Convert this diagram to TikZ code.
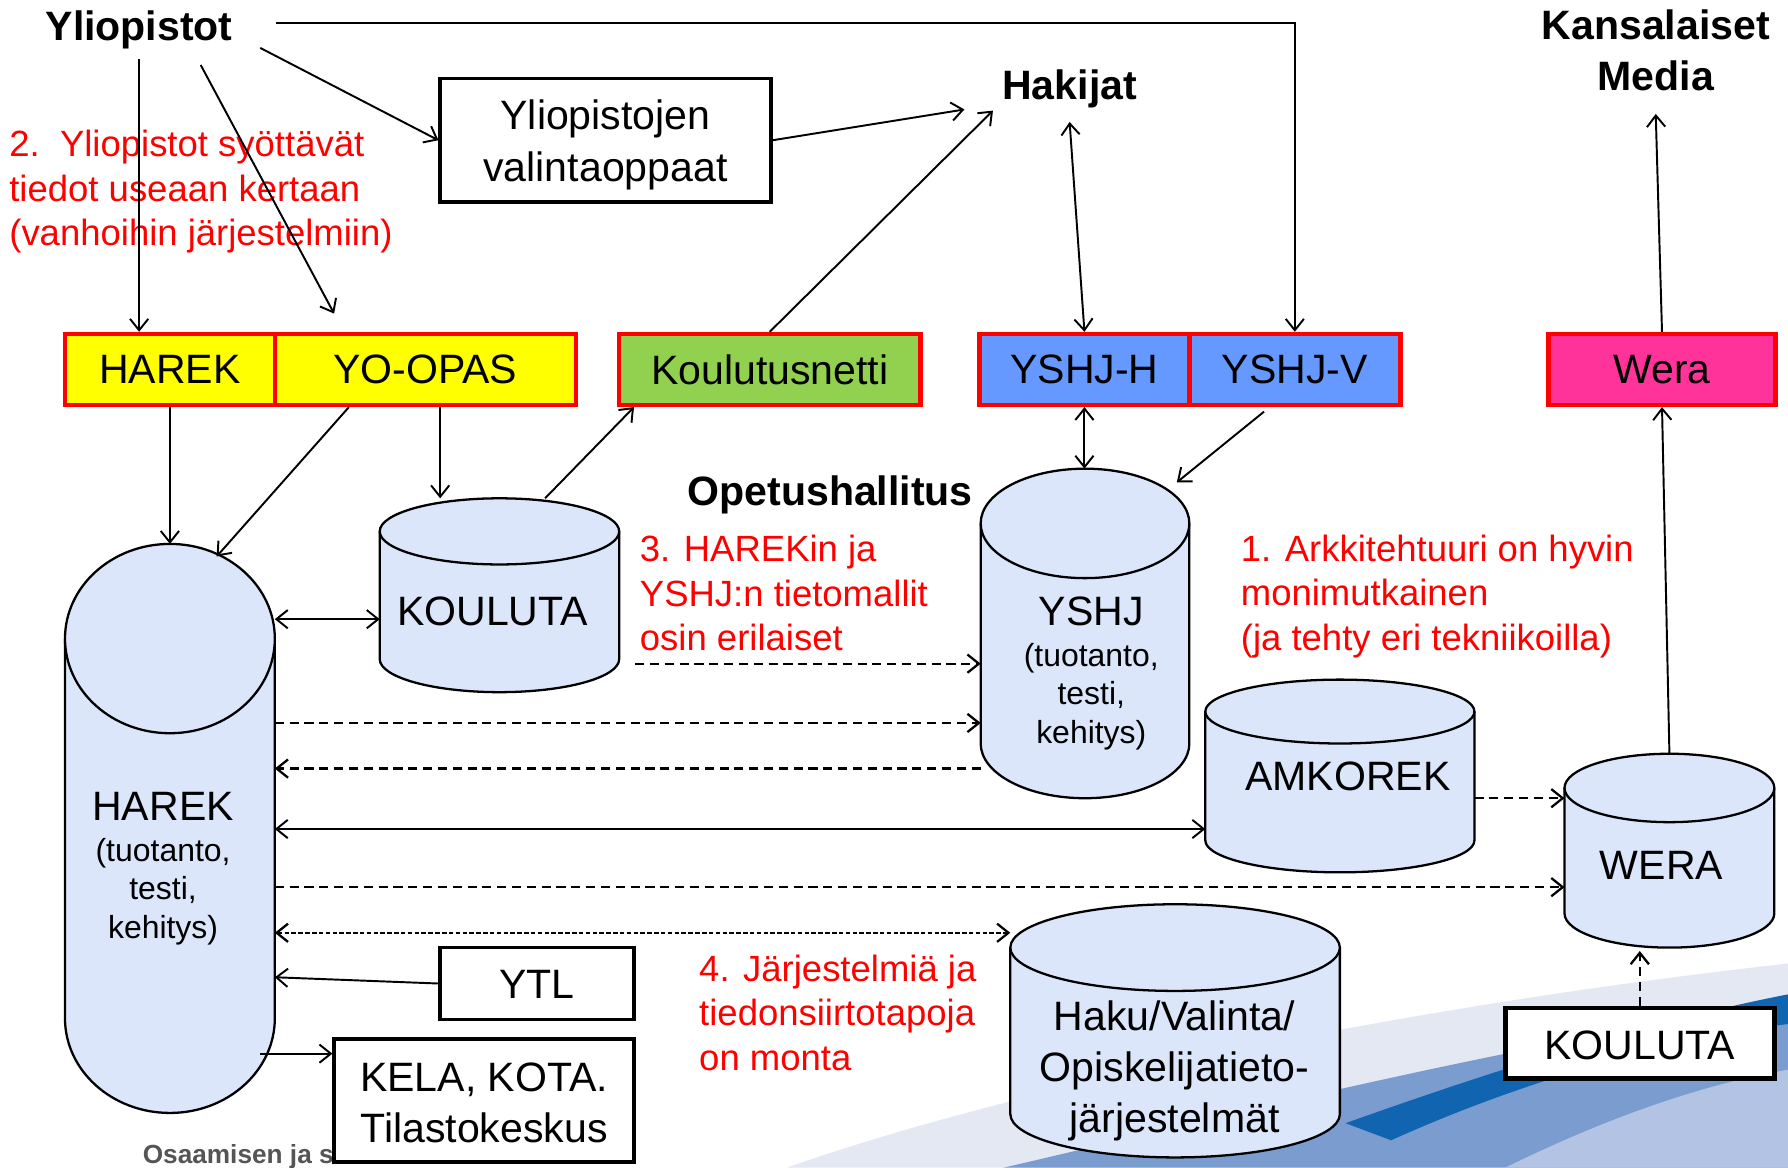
\documentclass[tikz,border=0pt]{standalone}
\usepackage{fontspec}
\setmainfont{Liberation Sans}
\usetikzlibrary{arrows.meta,calc}
\definecolor{cylfill}{RGB}{220,230,250}
\definecolor{hred}{RGB}{255,0,0}
\definecolor{hyellow}{RGB}{255,255,0}
\definecolor{hgreen}{RGB}{146,208,80}
\definecolor{hblue}{RGB}{102,153,255}
\definecolor{hpink}{RGB}{255,51,153}
\definecolor{swlight}{RGB}{228,232,242}
\definecolor{swmid}{RGB}{122,156,206}
\definecolor{swdark}{RGB}{16,100,176}
\definecolor{swpale}{RGB}{178,195,228}
\definecolor{footgray}{RGB}{85,85,85}
\tikzset{
 ghost/.style={inner sep=0pt, outer sep=0pt, draw=none},
 cylline/.style={draw=black, line width=2pt},
 colbox/.style={draw=hred, line width=4pt, minimum height=62pt, inner sep=0pt, font=\fontsize{36}{43}\selectfont},
 blkbox/.style={draw=black, fill=white, line width=3pt, inner sep=0pt},
 lbl/.style={inner sep=0pt, font=\fontsize{36}{45}\selectfont, align=center},
 sublbl/.style={inner sep=0pt, font=\fontsize{28}{34}\selectfont, align=center},
 ttl/.style={inner sep=0pt, font=\fontsize{36}{45}\selectfont\bfseries, align=center},
 note/.style={inner sep=0pt, text=hred, font=\fontsize{32}{39}\selectfont, align=left, anchor=west},
 conn/.style={draw=black, line width=1.7pt, ->},
 both/.style={draw=black, line width=1.7pt, <->},
 dsh/.style={line width=2pt, dash pattern=on 8pt off 5pt},
 dotl/.style={line width=2pt, dash pattern=on 4pt off 2pt},
}
\newcommand\dbcyl[6]{%
 \fill[cylfill] ({#2-#5},#3) -- ({#2-#5},#4) arc[start angle=180,end angle=360,x radius=#5pt,y radius=#6pt] -- ({#2+#5},#3) -- cycle;
 \draw[cylline] ({#2-#5},#3) -- ({#2-#5},#4) arc[start angle=180,end angle=360,x radius=#5pt,y radius=#6pt] -- ({#2+#5},#3);
 \filldraw[cylline,fill=cylfill] (#2,#3) ellipse[x radius=#5pt,y radius=#6pt];
 \node[ghost,minimum width={2*#5pt},minimum height={(#4-#3+2*#6)*1pt}] (#1) at (#2,{(#3+#4)/2}) {};
}
\begin{document}
\begin{tikzpicture}[x=1pt,y=-1pt,>={Straight Barb[length=10pt,width=16pt]}]
\fill[white] (0,0) rectangle (1568,1024);
\useasboundingbox (0,0) rectangle (1568,1024);
% background swoosh
\fill[swlight] (690,1024) .. controls (900,950) and (1250,880) .. (1568,845) -- (1568,1024) -- cycle;
\fill[swmid] (880,1024) .. controls (1050,985) and (1300,920) .. (1568,880) -- (1568,1024) -- cycle;
\fill[swdark] (1180,985) .. controls (1320,935) and (1450,895) .. (1568,872) -- (1568,898) .. controls (1460,912) and (1330,950) .. (1220,1000) -- cycle;
\fill[swpale] (1320,1024) .. controls (1420,975) and (1500,950) .. (1568,938) -- (1568,1024) -- cycle;
\node[anchor=base west, inner sep=0pt, font=\fontsize{23}{26}\selectfont\bfseries, text=footgray] (foot) at (125,1020) {Osaamisen ja s};

% titles
\node[ttl] (yl) at (122,26) {Yliopistot};
\node[ttl] (hak) at (938,78) {Hakijat};
\node[ttl] (kans) at (1452,44) {Kansalaiset\\Media};
\node[ttl] (opet) at (728,434) {Opetushallitus};
\node[blkbox, minimum width=290pt, minimum height=108pt] (val) at (531,123) {};
\node[lbl] (valt) at (531,127) {Yliopistojen\\valintaoppaat};

% coloured boxes
\node[colbox, fill=hyellow, minimum width=184pt] (harekb) at (149,324) {HAREK};
\node[colbox, fill=hyellow, minimum width=264pt] (yoopas) at (373,324) {YO-OPAS};
\node[colbox, fill=hgreen, minimum width=264pt] (kn) at (675,324) {Koulutusnetti};
\node[colbox, fill=hblue, minimum width=184pt] (yshjh) at (951,324) {YSHJ-H};
\node[colbox, fill=hblue, minimum width=185pt] (yshjv) at (1135.5,324) {YSHJ-V};
\node[colbox, fill=hpink, minimum width=199pt] (wera) at (1457.5,324) {Wera};

% cylinders
\dbcyl{harekc}{149}{560}{893}{92}{83}
\dbcyl{kouc}{438}{466}{578}{105}{29}
\dbcyl{yshj}{951.5}{459}{652}{91.5}{48}
\dbcyl{amk}{1175}{624}{737}{118}{28}
\dbcyl{werac}{1464}{691}{801}{92}{30}
\dbcyl{haku}{1030.5}{831}{977}{144.5}{38}

\node[lbl] (harekt) at (143,707) {HAREK};
\node[sublbl] (hareks) at (143,782) {(tuotanto,\\testi,\\kehitys)};
\node[lbl] (kout) at (432,536) {KOULUTA};
\node[lbl] (yshjt) at (957,536) {YSHJ};
\node[sublbl] (yshjs) at (957,611) {(tuotanto,\\testi,\\kehitys)};
\node[lbl] (amkt) at (1182,681) {AMKOREK};
\node[lbl] (werat) at (1457,759) {WERA};
\node[lbl] (hakut) at (1030,939) {Haku/Valinta/\\Opiskelijatieto-\\järjestelmät};

% black boxes
\node[blkbox, minimum width=170pt, minimum height=63pt] (ytl) at (471,862.5) {};
\node[lbl] (ytlt) at (471,863) {YTL};
\node[blkbox, minimum width=263pt, minimum height=108pt] (kela) at (424.5,965) {};
\node[lbl] (kelat) at (424.5,967) {KELA, KOTA.\\Tilastokeskus};
\node[blkbox, line width=4pt, minimum width=236pt, minimum height=62pt] (koub) at (1438,915) {};
\node[lbl] (koubt) at (1438,917) {KOULUTA};

% notes
\node[note] (n2) at (8,168) {2.\ \ Yliopistot syöttävät\\tiedot useaan kertaan\\(vanhoihin järjestelmiin)};
\node[note] (n3) at (561,520) {3. HAREKin ja\\YSHJ:n tietomallit\\osin erilaiset};
\node[note] (n1) at (1088,523) {1. Arkkitehtuuri on hyvin\\monimutkainen\\(ja tehty eri tekniikoilla)};
\node[note] (n4) at (613,888) {4. Järjestelmiä ja\\tiedonsiirtotapoja\\on monta};

% connectors
\draw[conn] ([xshift=38pt,yshift=6pt]yl.east) -| (yshjv.north);
\draw[conn] ([yshift=-9pt]yl.south) -- (yl.south |- harekb.north);
\draw[conn] ([xshift=54pt,yshift=-14pt]yl.south) -- ([xshift=-80pt,yshift=16pt]yoopas.north);
\draw[conn] ([xshift=24pt,yshift=-16pt]yl.east) -- (val.west);
\draw[conn] (val.east) -- ([xshift=-33pt,yshift=-18pt]hak.west);
\draw[conn] (kn.north) -- ([xshift=-8pt,yshift=-19pt]hak.west);
\draw[both] ([yshift=-12pt]hak.south) -- (yshjh.north);
\draw[both] (yshjh.south) -- (yshj.north -| yshjh.south);
\draw[conn] ([xshift=-27pt,yshift=-4pt]yshjv.south) -- ([xshift=-11pt,yshift=-12pt]yshj.north east);
\draw[conn] (wera.north) -- ([yshift=-20pt]kans.south);
\draw[conn] (werac.north) -- (wera.south);
\draw[conn] (harekb.south) -- (harekc.north);
\draw[conn] ([xshift=-67pt]yoopas.south) -- ([xshift=41pt,yshift=-11pt]harekc.north);
\draw[conn] ([xshift=13pt]yoopas.south) -- ([xshift=13pt]yoopas.south |- kouc.north);
\draw[conn] ([xshift=40pt]kouc.north) -- ([xshift=-119pt]kn.south);

\coordinate (r543) at (0,543);
\coordinate (n3end) at (557,582);
\coordinate (r634) at (0,634);
\coordinate (r674) at (0,674);
\coordinate (r700) at (0,700);
\coordinate (r727) at (0,727);
\coordinate (r778) at (0,778);
\coordinate (r818) at (0,818);
\coordinate (r857) at (0,857);
\coordinate (kelast) at (228,924);

\draw[both] (harekc.east |- r543) -- (kouc.west |- r543);
\draw[conn,dsh] (n3end) -- (yshj.west |- n3end);
\draw[conn,dsh] (harekc.east |- r634) -- (yshj.west |- r634);
\draw[conn,dsh] (yshj.west |- r674) -- (harekc.east |- r674);
\draw[both] (harekc.east |- r727) -- (amk.west |- r727);
\draw[conn,dsh] (harekc.east |- r778) -- (werac.west |- r778);
\draw[both,dotl] (harekc.east |- r818) -- (haku.west |- r818);
\draw[conn] (ytl.west) -- (harekc.east |- r857);
\draw[conn] (kelast) -- (kela.west |- kelast);
\draw[conn,dsh] (amk.east |- r700) -- (werac.west |- r700);
\draw[conn,dsh] (koub.north) -- ([yshift=-3pt]koub.north |- werac.south);
\end{tikzpicture}
\end{document}
